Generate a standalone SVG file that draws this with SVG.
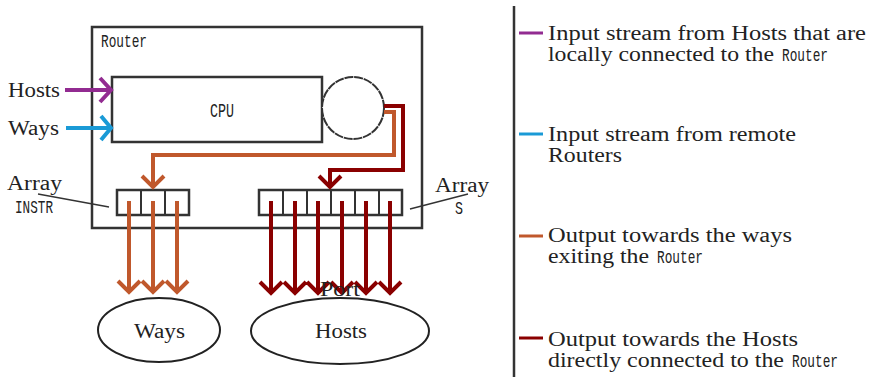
<svg xmlns="http://www.w3.org/2000/svg" width="871" height="377" viewBox="0 0 871 377">
<defs>
<style>
.ser{font-family:"Liberation Serif","Times New Roman",serif;font-size:20px;fill:#222}
.tt{font-family:"Liberation Mono","Courier New",monospace;fill:#222}
.box{fill:#fff;stroke:#333;stroke-width:2.5}
.pur{stroke:#922B91}
.blu{stroke:#1A9AD6}
.ora{stroke:#C0582C}
.red{stroke:#8A0000}
.ln{fill:none;stroke-width:4}
.hd{fill:none;stroke-width:4;stroke-linecap:butt;stroke-linejoin:miter}
.lead{stroke:#333;stroke-width:1.3;fill:none}
</style>
</defs>
<rect width="871" height="377" fill="#fff"/>

<g id="router">
<rect class="box" x="92" y="27" width="330" height="201"/>
<text class="tt" x="101" y="47" font-size="18" textLength="46" lengthAdjust="spacingAndGlyphs">Router</text>
</g>
<g id="cpu">
<rect class="box" x="112" y="77" width="210" height="65"/>
<text class="tt" x="210" y="117" font-size="20" textLength="24" lengthAdjust="spacingAndGlyphs">CPU</text>
</g>
<g id="circle">
<circle cx="353" cy="108" r="31" fill="#fff" stroke="#333" stroke-width="2" stroke-dasharray="9 0.8"/>
</g>
<g id="array-instr">
<rect class="box" x="117" y="190" width="72" height="25"/>
<path d="M141 190V215M165 190V215" stroke="#333" stroke-width="2"/>
<text class="ser" x="7" y="190" textLength="55" lengthAdjust="spacingAndGlyphs">Array</text>
<text class="tt" x="15" y="213" font-size="19" textLength="38" lengthAdjust="spacingAndGlyphs">INSTR</text>
<path class="lead" d="M38 194L109 207"/>
</g>
<g id="array-s">
<rect class="box" x="259" y="190" width="143" height="25"/>
<path d="M283 190V215M307 190V215M331 190V215M355 190V215M379 190V215" stroke="#333" stroke-width="2"/>
<text class="ser" x="435" y="192" textLength="54" lengthAdjust="spacingAndGlyphs">Array</text>
<text class="tt" x="455" y="214" font-size="19" textLength="8" lengthAdjust="spacingAndGlyphs">S</text>
<path class="lead" d="M410 209L468 194"/>
</g>
<g id="ways">
<ellipse cx="159" cy="330" rx="61" ry="32" fill="#fff" stroke="#222" stroke-width="2"/>
<text class="ser" x="134" y="338" textLength="51" lengthAdjust="spacingAndGlyphs">Ways</text>
</g>
<g id="hosts">
<ellipse cx="340" cy="331" rx="89" ry="33" fill="#fff" stroke="#222" stroke-width="2"/>
<text class="ser" x="315" y="338" textLength="52" lengthAdjust="spacingAndGlyphs">Hosts</text>
</g>
<g id="labels">
<text class="ser" x="8" y="97" textLength="52" lengthAdjust="spacingAndGlyphs">Hosts</text>
<text class="ser" x="8" y="135" textLength="51" lengthAdjust="spacingAndGlyphs">Ways</text>
</g>

<g id="connectors">
<path class="ln pur" d="M65 90H111"/>
<path class="hd pur" d="M100 78L111 90L100 102"/>
<path class="ln blu" d="M66 128H111"/>
<path class="hd blu" d="M101 116L111 128L101 140"/>
<path class="ln ora" d="M384 112H394V155H153V186"/>
<path class="hd ora" d="M142 176L153 187L164 176"/>
<path class="ln red" d="M384 106H403V170H330V186"/>
<path class="hd red" d="M319 176L330 187L341 176"/>
<g class="ora">
<path class="ln" d="M129 201V292M153 201V292M177 201V292"/>
<path class="hd" d="M118 281L129 292L140 281M142 281L153 292L164 281M166 281L177 292L188 281"/>
</g>
<g class="red">
<path class="ln" d="M271 201V293M295 201V293M318 201V293M342 201V293M366 201V293M390 201V293"/>
<path class="hd" d="M260 282L271 293L282 282M284 282L295 293L306 282M307 282L318 293L329 282M331 282L342 293L353 282M355 282L366 293L377 282M379 282L390 293L401 282"/>
</g>
</g>
<text class="ser" x="320" y="296" textLength="40" lengthAdjust="spacingAndGlyphs">Port</text>

<g id="legend">
<path d="M514 6V377" stroke="#333" stroke-width="2.5"/>
<path class="pur" d="M519 33H543" stroke-width="3"/>
<path class="blu" d="M519 134H543" stroke-width="3"/>
<path class="ora" d="M519 236H543" stroke-width="3"/>
<path class="red" d="M519 338H543" stroke-width="3"/>
<text class="ser" x="548" y="40" textLength="318" lengthAdjust="spacingAndGlyphs">Input stream from Hosts that are</text>
<text class="ser" x="548" y="61" textLength="226" lengthAdjust="spacingAndGlyphs">locally connected to the</text>
<text class="tt" x="782" y="61" font-size="18" textLength="46" lengthAdjust="spacingAndGlyphs">Router</text>
<text class="ser" x="548" y="141" textLength="248" lengthAdjust="spacingAndGlyphs">Input stream from remote</text>
<text class="ser" x="548" y="162" textLength="74" lengthAdjust="spacingAndGlyphs">Routers</text>
<text class="ser" x="548" y="242" textLength="244" lengthAdjust="spacingAndGlyphs">Output towards the ways</text>
<text class="ser" x="548" y="263" textLength="101" lengthAdjust="spacingAndGlyphs">exiting the</text>
<text class="tt" x="657" y="263" font-size="18" textLength="46" lengthAdjust="spacingAndGlyphs">Router</text>
<text class="ser" x="548" y="346" textLength="250" lengthAdjust="spacingAndGlyphs">Output towards the Hosts</text>
<text class="ser" x="548" y="367" textLength="236" lengthAdjust="spacingAndGlyphs">directly connected to the</text>
<text class="tt" x="792" y="367" font-size="18" textLength="46" lengthAdjust="spacingAndGlyphs">Router</text>
</g>
</svg>
